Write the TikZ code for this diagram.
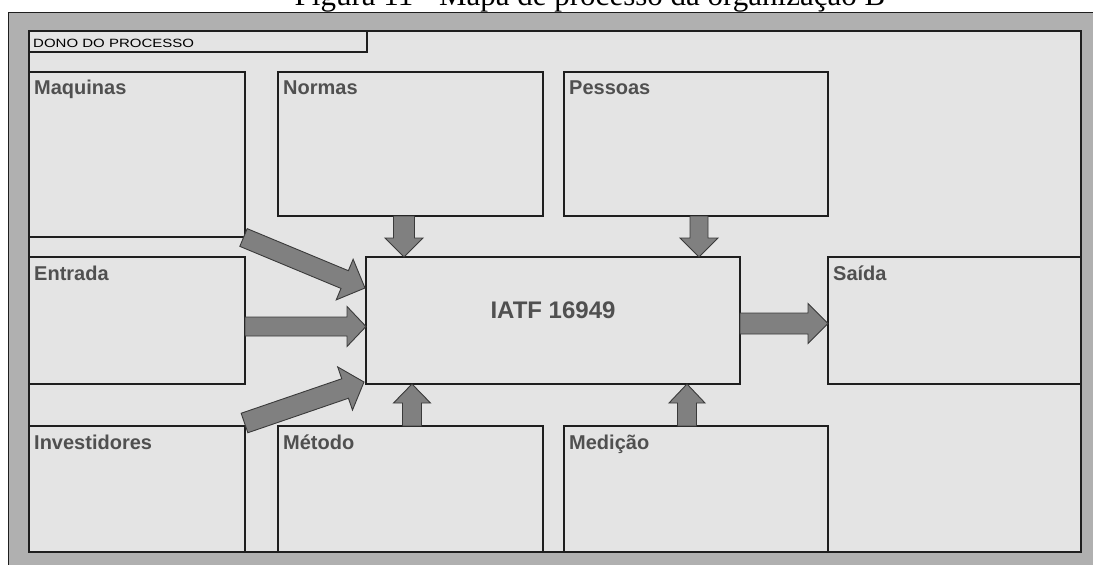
\documentclass[tikz,border=0pt]{standalone}
\usepackage{fontspec}
\usepackage{graphicx}
\setmainfont{Liberation Serif}
\newfontfamily\lsans{Liberation Sans}
\usetikzlibrary{calc}
\definecolor{bandgray}{HTML}{B0B0B0}
\definecolor{panelgray}{HTML}{E4E4E4}
\definecolor{linedark}{HTML}{1E1E1E}
\definecolor{arrowfill}{HTML}{808080}
\definecolor{arrowline}{HTML}{3A3A3A}
\definecolor{labelgray}{HTML}{505050}
\tikzset{
  panelbox/.style={draw=linedark, line width=1.2pt, fill=panelgray, inner sep=0pt, outer sep=0pt, anchor=north west},
  boxlabel/.style={anchor=base west, inner sep=0pt, text=labelgray, font=\lsans\bfseries\fontsize{20}{24}\selectfont},
  blockarrow/.style={fill=arrowfill, draw=arrowline, line width=0.9pt, line join=miter},
}
\newcommand{\blockarr}[5]{%
  \coordinate (ba-h) at ($(#2)!#5!(#1)$);
  \draw[blockarrow] ($(#1)!#3!90:(#2)$) -- ($(ba-h)!#3!-90:(#1)$) -- ($(ba-h)!#4!-90:(#1)$) -- (#2) -- ($(ba-h)!#4!90:(#1)$) -- ($(ba-h)!#3!90:(#1)$) -- ($(#1)!#3!-90:(#2)$) -- cycle;
}
\begin{document}
\begin{tikzpicture}[x=1pt,y=-1pt]
\useasboundingbox (0,0) rectangle (1093,565);
\clip (0,0) rectangle (1093,565);
\fill[white] (0,0) rectangle (1093,565);
% caption (cut at the top)
\node[anchor=base, inner sep=0pt, font=\fontsize{31}{36}\selectfont] (cap) at (590,5) {Figura 11 - Mapa de processo da organização B};
% frame
\draw[fill=bandgray, draw=linedark, line width=0.8pt] (8,12) rectangle (1110,580);
\node[panelbox, minimum width=1052pt, minimum height=521pt] (panel) at (29,31) {};
% boxes
\node[panelbox, minimum width=338pt, minimum height=21pt] (dono) at (29,31) {};
\node[panelbox, minimum width=216pt, minimum height=165pt] (maq) at (29,72) {};
\node[panelbox, minimum width=265pt, minimum height=144pt] (normas) at (278,72) {};
\node[panelbox, minimum width=264pt, minimum height=144pt] (pessoas) at (564,72) {};
\node[panelbox, minimum width=216pt, minimum height=127pt] (entrada) at (29,257) {};
\node[panelbox, minimum width=374pt, minimum height=127pt] (iatf) at (366,257) {};
\node[panelbox, minimum width=253pt, minimum height=127pt] (saida) at (828,257) {};
\node[panelbox, minimum width=216pt, minimum height=126pt] (invest) at (29,426) {};
\node[panelbox, minimum width=265pt, minimum height=126pt] (metodo) at (278,426) {};
\node[panelbox, minimum width=264pt, minimum height=126pt] (medicao) at (564,426) {};
% labels
\node[anchor=base west, inner sep=0pt, font=\lsans\fontsize{12}{14}\selectfont] (dono-l) at ($(dono.north west)+(4,16.7)$) {\scalebox{1.25}[1]{DONO DO PROCESSO}};
\node[boxlabel] (maq-l) at ($(maq.north west)+(5,22)$) {Maquinas};
\node[boxlabel] (normas-l) at ($(normas.north west)+(5,22)$) {Normas};
\node[boxlabel] (pessoas-l) at ($(pessoas.north west)+(5,22)$) {Pessoas};
\node[boxlabel] (entrada-l) at ($(entrada.north west)+(5,23)$) {Entrada};
\node[boxlabel] (saida-l) at ($(saida.north west)+(5,23)$) {Saída};
\node[boxlabel] (invest-l) at ($(invest.north west)+(5,23)$) {Investidores};
\node[boxlabel] (metodo-l) at ($(metodo.north west)+(5,23)$) {Método};
\node[boxlabel] (medicao-l) at ($(medicao.north west)+(5,23)$) {Medição};
\node[inner sep=0pt, text=labelgray, font=\lsans\bfseries\fontsize{24}{28}\selectfont] (iatf-l) at ($(iatf.center)+(0,-10)$) {IATF 16949};
% arrow end points
\coordinate (a1s) at ($(normas.south west)+(126,0)$);
\coordinate (a1e) at ($(iatf.north west)+(38,0)$);
\coordinate (a2s) at ($(pessoas.south west)+(135,0)$);
\coordinate (a2e) at ($(iatf.north west)+(333,0)$);
\coordinate (a3s) at ($(metodo.north west)+(134,0)$);
\coordinate (a3e) at ($(iatf.south west)+(46,0)$);
\coordinate (a4s) at ($(medicao.north west)+(123,0)$);
\coordinate (a4e) at ($(iatf.south west)+(321,0)$);
\coordinate (a5s) at ($(iatf.north east)+(0,66.5)$);
\coordinate (a5e) at ($(saida.north west)+(0,66.5)$);
\coordinate (a6s) at ($(entrada.north east)+(0,69.5)$);
\coordinate (a6e) at ($(iatf.north west)+(0,69.5)$);
\coordinate (a7s) at ($(maq.south east)+(-1.5,0.5)$);
\coordinate (a7e) at ($(iatf.north west)+(-1,31)$);
\coordinate (a8s) at ($(invest.north east)+(-0.5,-3)$);
\coordinate (a8e) at ($(iatf.south west)+(-2,-2)$);
% block arrows
\blockarr{a1s}{a1e}{10.5pt}{19pt}{19pt}
\blockarr{a2s}{a2e}{9pt}{19pt}{19pt}
\blockarr{a3s}{a3e}{9.5pt}{18.5pt}{19pt}
\blockarr{a4s}{a4e}{9.5pt}{18pt}{19pt}
\blockarr{a5s}{a5e}{10.5pt}{20pt}{20pt}
\blockarr{a6s}{a6e}{9.5pt}{20pt}{19pt}
\blockarr{a7s}{a7e}{9.6pt}{22pt}{22pt}
\blockarr{a8s}{a8e}{10.3pt}{22.8pt}{20pt}
\end{tikzpicture}
\end{document}
